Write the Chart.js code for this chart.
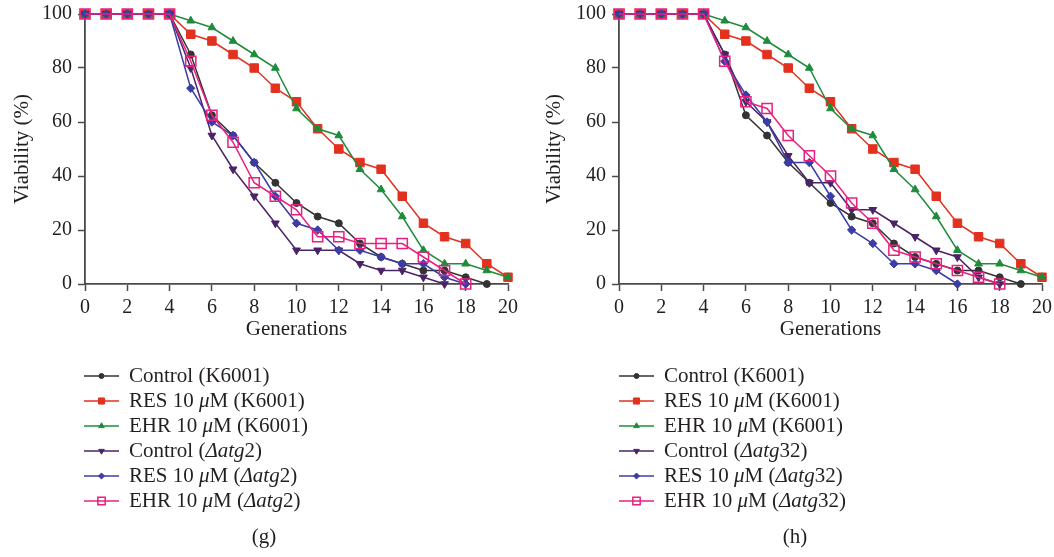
<!DOCTYPE html>
<html>
<head>
<meta charset="utf-8">
<script src="https://cdn.jsdelivr.net/npm/chart.js@4.4.0/dist/chart.umd.min.js"></script>
<style>
  html, body { margin: 0; padding: 0; background: #ffffff; }
  #wrap { position: relative; width: 1054px; height: 557px; overflow: hidden; }
  canvas { position: absolute; top: 0; }
  #cg { left: 0; }
  #ch { left: 527px; }
</style>
</head>
<body>
<div id="wrap">
  <canvas id="cg" width="527" height="557"></canvas>
  <canvas id="ch" width="527" height="557"></canvas>
</div>
<script>
// ---------- data ----------
const generations = [0,1,2,3,4,5,6,7,8,9,10,11,12,13,14,15,16,17,18,19,20];
const yTicks = [0,20,40,60,80,100];

// shared K6001 series
const controlK6001 = [100,100,100,100,100,85,62.5,55,45,37.5,30,25,22.5,15,10,7.5,5,5,2.5,0,null];
const resK6001     = [100,100,100,100,100,92.5,90,85,80,72.5,67.5,57.5,50,45,42.5,32.5,22.5,17.5,15,7.5,2.5];
const ehrK6001     = [100,100,100,100,100,97.5,95,90,85,80,65,57.5,55,42.5,35,25,12.5,7.5,7.5,5,2.5];

// panel (g): Δatg2
const controlAtg2 = [100,100,100,100,100,80,55,42.5,32.5,22.5,12.5,12.5,12.5,7.5,5,5,2.5,0,null,null,null];
const resAtg2     = [100,100,100,100,100,72.5,60,55,45,32.5,22.5,20,12.5,12.5,10,7.5,7.5,2.5,0,null,null];
const ehrAtg2     = [100,100,100,100,100,82.5,62.5,52.5,37.5,32.5,27.5,17.5,17.5,15,15,15,10,5,0,null,null];

// panel (h): Δatg32
const controlAtg32 = [100,100,100,100,100,85,67.5,60,47.5,37.5,37.5,27.5,27.5,22.5,17.5,12.5,10,2.5,0,null,null];
const resAtg32     = [100,100,100,100,100,82.5,70,60,45,45,32.5,20,15,7.5,7.5,5,0,null,null,null,null];
const ehrAtg32     = [100,100,100,100,100,82.5,67.5,65,55,47.5,40,30,22.5,12.5,10,7.5,5,2.5,0,null,null];

// legend labels as text runs: [text, italic]
const labelsG = [
  [["Control (K6001)", false]],
  [["RES 10 ", false], ["\u03bc", true], ["M (K6001)", false]],
  [["EHR 10 ", false], ["\u03bc", true], ["M (K6001)", false]],
  [["Control (", false], ["\u0394atg", true], ["2)", false]],
  [["RES 10 ", false], ["\u03bc", true], ["M (", false], ["\u0394atg", true], ["2)", false]],
  [["EHR 10 ", false], ["\u03bc", true], ["M (", false], ["\u0394atg", true], ["2)", false]]
];
const labelsH = [
  [["Control (K6001)", false]],
  [["RES 10 ", false], ["\u03bc", true], ["M (K6001)", false]],
  [["EHR 10 ", false], ["\u03bc", true], ["M (K6001)", false]],
  [["Control (", false], ["\u0394atg", true], ["32)", false]],
  [["RES 10 ", false], ["\u03bc", true], ["M (", false], ["\u0394atg", true], ["32)", false]],
  [["EHR 10 ", false], ["\u03bc", true], ["M (", false], ["\u0394atg", true], ["32)", false]]
];
const xTitle = "Generations";
const yTitle = "Viability (%)";

// ---------- styles ----------
const FONT = '"Liberation Serif", "Times New Roman", serif';
const TEXT = '#231f20';
const AXIS = '#4a4a4a';
const styles = [
  { color: '#333333', fill: '#333333', pointStyle: 'circle',   rotation: 0,   radius: 3.5, bw: 1 },
  { color: '#e2311f', fill: '#e2311f', pointStyle: 'rect',     rotation: 0,   radius: 6,   bw: 1 },
  { color: '#1f8c3c', fill: '#1f8c3c', pointStyle: 'triangle', rotation: 0,   radius: 4.5, bw: 1 },
  { color: '#4b2367', fill: '#4b2367', pointStyle: 'triangle', rotation: 180, radius: 4.5, bw: 1 },
  { color: '#3b3ca6', fill: '#3b3ca6', pointStyle: 'rectRot',  rotation: 0,   radius: 4.2, bw: 1 },
  { color: '#e8207f', fill: 'rgba(255,255,255,0)', pointStyle: 'rect', rotation: 0, radius: 7.2, bw: 1.5 }
];

function toPoints(vals) {
  return generations.map((g, i) => ({ x: g, y: vals[i] })).filter(p => p.y !== null);
}

const legendPlugin = {
  id: 'panelLegend',
  afterDraw(chart, args, o) {
    const ctx = chart.ctx;
    ctx.save();
    chart.data.datasets.forEach((ds, i) => {
      const st = styles[i];
      const y = o.y0 + i * o.dy;
      ctx.strokeStyle = st.color;
      ctx.lineWidth = 1.6;
      ctx.beginPath();
      ctx.moveTo(o.x0, y);
      ctx.lineTo(o.x0 + o.len, y);
      ctx.stroke();
      ctx.fillStyle = st.fill;
      ctx.strokeStyle = st.color;
      ctx.lineWidth = st.bw;
      Chart.helpers.drawPoint(ctx, { pointStyle: st.pointStyle, rotation: st.rotation, radius: st.radius * 0.72, borderWidth: st.bw }, o.x0 + o.len / 2, y);
      let x = o.x0 + o.textOff;
      ctx.fillStyle = TEXT;
      ctx.textBaseline = 'middle';
      ctx.textAlign = 'left';
      for (const [t, it] of o.labels[i]) {
        ctx.font = (it ? 'italic ' : '') + '21px ' + FONT;
        ctx.fillText(t, x, y);
        x += ctx.measureText(t).width;
      }
    });
    ctx.font = '21px ' + FONT;
    ctx.textAlign = 'center';
    ctx.fillText(o.panel, o.px, o.py);
    ctx.restore();
  }
};

function makeChart(id, series, geom) {
  const datasets = series.map((vals, i) => ({
    data: toPoints(vals),
    borderColor: styles[i].color,
    backgroundColor: styles[i].fill,
    borderWidth: 1.5,
    pointStyle: styles[i].pointStyle,
    pointRotation: styles[i].rotation,
    pointRadius: styles[i].radius,
    pointHoverRadius: styles[i].radius,
    pointBackgroundColor: styles[i].fill,
    pointBorderColor: styles[i].color,
    pointBorderWidth: styles[i].bw,
    tension: 0,
    fill: false,
    clip: false,
    order: 6 - i
  }));
  return new Chart(document.getElementById(id), {
    type: 'line',
    data: { datasets },
    plugins: [legendPlugin],
    options: {
      responsive: false,
      animation: false,
      devicePixelRatio: 1,
      layout: { padding: { left: 0, right: geom.padRight, top: 14, bottom: 213 } },
      plugins: {
        legend: { display: false },
        tooltip: { enabled: false },
        panelLegend: { x0: geom.legX, len: 35, textOff: 45, y0: 376, dy: 25, labels: geom.labels, panel: geom.panel, px: geom.panelX, py: 537 }
      },
      scales: {
        x: {
          type: 'linear',
          min: 0, max: 20,
          afterFit(s) { s.height = 60; s.paddingLeft = 0; s.paddingRight = 0; },
          afterBuildTicks(s) { s.ticks = generations.filter(g => g % 2 === 0).map(v => ({ value: v })); },
          ticks: { color: TEXT, font: { family: FONT, size: 20 }, padding: 5, maxRotation: 0, autoSkip: false },
          grid: { display: true, drawOnChartArea: false, drawTicks: true, tickLength: 7, tickColor: AXIS, tickWidth: 1.5 },
          border: { display: true, color: AXIS, width: 1.8 },
          title: { display: true, text: xTitle, color: TEXT, font: { family: FONT, size: 21 }, padding: { top: 0, bottom: 2 } }
        },
        y: {
          min: 0, max: 100,
          afterFit(s) { s.width = geom.yWidth; s.paddingTop = 0; s.paddingBottom = 0; },
          afterBuildTicks(s) { s.ticks = yTicks.map(v => ({ value: v })); },
          ticks: { color: TEXT, font: { family: FONT, size: 20 }, padding: 6 },
          grid: { display: true, drawOnChartArea: false, drawTicks: true, tickLength: 7, tickColor: AXIS, tickWidth: 1.5 },
          border: { display: true, color: AXIS, width: 1.8 },
          title: { display: true, text: yTitle, color: TEXT, font: { family: FONT, size: 21 }, padding: { top: geom.yTitlePad, bottom: 0 } }
        }
      }
    }
  });
}

makeChart('cg', [controlK6001, resK6001, ehrK6001, controlAtg2, resAtg2, ehrAtg2],
  { padRight: 19, yWidth: 85, yTitlePad: 10, legX: 84, labels: labelsG, panel: '(g)', panelX: 264 });
makeChart('ch', [controlK6001, resK6001, ehrK6001, controlAtg32, resAtg32, ehrAtg32],
  { padRight: 12, yWidth: 92, yTitlePad: 15, legX: 92, labels: labelsH, panel: '(h)', panelX: 268 });
</script>
</body>
</html>
